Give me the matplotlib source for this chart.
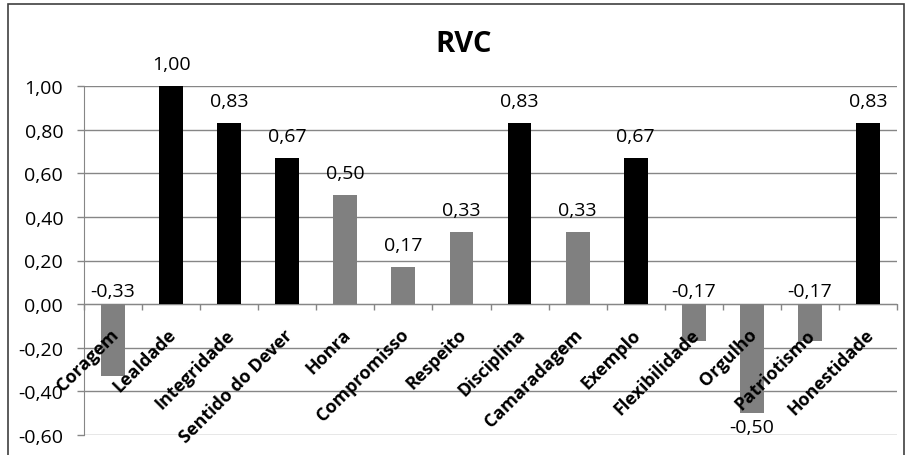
import matplotlib
matplotlib.use("Agg")
import matplotlib.pyplot as plt
from matplotlib.patches import Rectangle
from matplotlib.ticker import FixedLocator, FuncFormatter

plt.rcParams["font.family"] = ["Open Sans", "DejaVu Sans"]

categories = ["Coragem", "Lealdade", "Integridade", "Sentido do Dever", "Honra",
              "Compromisso", "Respeito", "Disciplina", "Camaradagem", "Exemplo",
              "Flexibilidade", "Orgulho", "Patriotismo", "Honestidade"]
values = [-0.33, 1.00, 0.83, 0.67, 0.50, 0.17, 0.33, 0.83, 0.33, 0.67,
          -0.17, -0.50, -0.17, 0.83]
y_ticks = [-0.60, -0.40, -0.20, 0.00, 0.20, 0.40, 0.60, 0.80, 1.00]
title = "RVC"

HIGH = 0.6          # bars at or above this are drawn black
GRID = "#868686"


def fmt(v):
    return f"{v:.2f}".replace(".", ",")


fig = plt.figure(figsize=(9.08, 4.56), dpi=100)
ax = fig.add_axes([84 / 908, 1 - 436 / 456, (897 - 84) / 908, (436 - 87) / 456])

x = list(range(len(categories)))
colors = ["#000000" if v >= HIGH else "#808080" for v in values]
ax.bar(x, values, width=0.41, color=colors, zorder=3)

ax.set_xlim(-0.5, len(categories) - 0.5)
ax.set_ylim(y_ticks[0], y_ticks[-1])
ax.yaxis.set_major_locator(FixedLocator(y_ticks))
ax.yaxis.set_major_formatter(FuncFormatter(lambda v, _: fmt(v)))
ax.grid(axis="y", color=GRID, linewidth=1, zorder=0)
ax.tick_params(axis="y", length=5, width=1, color=GRID, labelsize=14, pad=10)

# category axis crosses at zero, ticks between categories
ax.spines["bottom"].set_position(("data", 0))
ax.spines["bottom"].set_color(GRID)
ax.spines["left"].set_color(GRID)
ax.spines["top"].set_visible(False)
ax.spines["right"].set_visible(False)
ax.xaxis.set_major_locator(FixedLocator([i - 0.5 for i in range(len(categories) + 1)]))
ax.set_xticklabels([])
ax.tick_params(axis="x", length=4, width=1, color=GRID, direction="out")

for i, name in enumerate(categories):
    ax.annotate(name, (i, 0), xytext=(6, -31), textcoords="offset pixels",
                rotation=45, rotation_mode="anchor", ha="right", va="baseline",
                fontsize=13, fontweight="bold", zorder=4)

for i, v in enumerate(values):
    if v >= 0:
        ax.annotate(fmt(v), (i, v), xytext=(0, 22), textcoords="offset pixels",
                    ha="center", va="center", fontsize=14)
    elif v > -0.4:
        ax.annotate(fmt(v), (i, 0), xytext=(0, 13), textcoords="offset pixels",
                    ha="center", va="center", fontsize=14)
    else:
        ax.annotate(fmt(v), (i, v), xytext=(0, -14), textcoords="offset pixels",
                    ha="center", va="center", fontsize=14)

fig.text(464 / 908, 1 - 45 / 456, title, ha="center", va="center",
         fontsize=21, fontweight="bold")

# chart frame
fig.patches.append(Rectangle((8 / 908, -0.05), (904 - 8) / 908, 1 - 5 / 456 + 0.05,
                             transform=fig.transFigure, fill=False,
                             edgecolor="#404040", linewidth=1.2))

fig.savefig("out.png", dpi=100)
